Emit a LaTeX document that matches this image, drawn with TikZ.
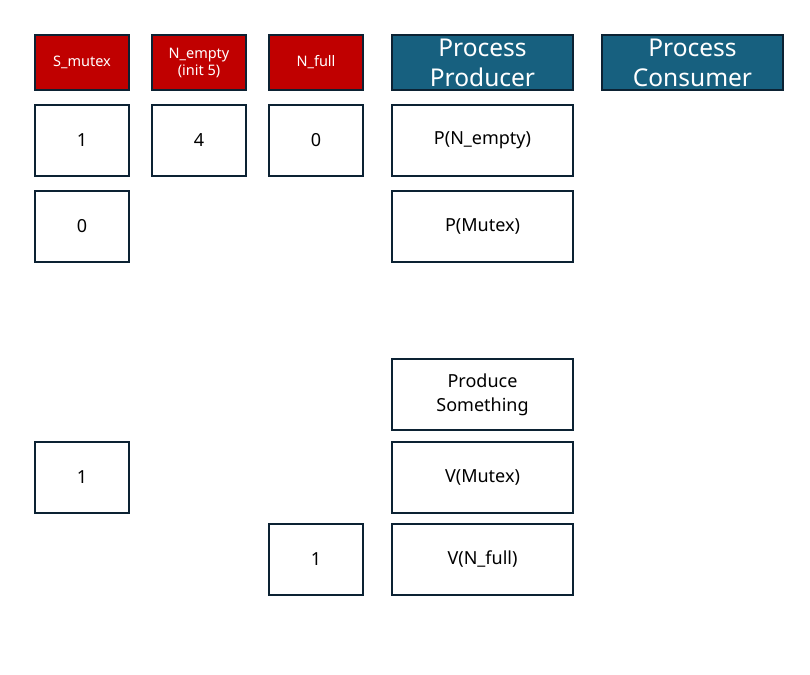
\documentclass[tikz,border=0pt]{standalone}
\usepackage{fontspec}
\setsansfont{Noto Sans}
\usetikzlibrary{positioning}
\definecolor{semred}{HTML}{C00000}
\definecolor{procblue}{HTML}{17607F}
\definecolor{edge}{HTML}{0C2233}

\begin{document}
\begin{tikzpicture}[
  x=1pt, y=-1pt,
  every node/.style={font=\sffamily},
  box/.style      = {draw=edge, line width=1.6pt, inner sep=0pt, outer sep=0pt, align=center,
                     minimum width=94pt, minimum height=71pt, font=\sffamily\fontsize{18}{24}\selectfont},
  wide/.style     = {box, minimum width=181pt},
  semhead/.style  = {box, fill=semred, text=white, minimum height=55pt, font=\sffamily\fontsize{14.5}{17}\selectfont},
  prochead/.style = {wide, fill=procblue, text=white, minimum height=55pt, font=\sffamily\fontsize{24.5}{30}\selectfont},
]
  \useasboundingbox (0,0) rectangle (810,674);

  % Header row: semaphores, then the two processes.
  \node[semhead, anchor=north west] (hmutex) at (35,35) {S\_mutex};
  \node[semhead, right=23pt of hmutex]  (hempty) {N\_empty\\(init 5)};
  \node[semhead, right=23pt of hempty]  (hfull)  {N\_full};
  \node[prochead, right=29pt of hfull]  (hprod)  {Process\\Producer};
  \node[prochead, right=29pt of hprod]  (hcons)  {Process\\Consumer};

  % Producer steps.
  \node[wide, below=15pt of hprod]   (pempty)  {P(N\_empty)};
  \node[wide, below=15pt of pempty]  (pmutex)  {P(Mutex)};
  \node[wide, below=97pt of pmutex]  (produce) {Produce\\Something};
  \node[wide, below=12pt of produce] (vmutex)  {V(Mutex)};
  \node[wide, below=11pt of vmutex]  (vfull)   {V(N\_full)};

  % Semaphore values.
  \node[box, below=15pt of hmutex] (mutexA) {1};
  \node[box, below=15pt of hempty] (emptyA) {4};
  \node[box, below=15pt of hfull]  (fullA)  {0};
  \node[box, below=15pt of mutexA] (mutexB) {0};
  \node[box] (mutexC) at (mutexB |- vmutex) {1};
  \node[box] (fullB)  at (fullA |- vfull)   {1};
\end{tikzpicture}
\end{document}
